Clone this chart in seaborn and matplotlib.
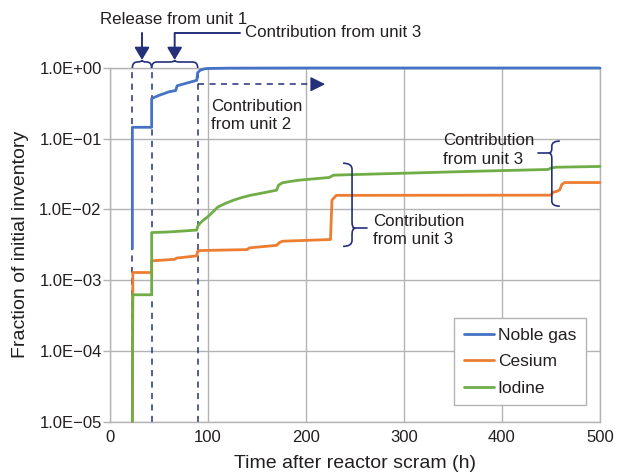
import numpy as np
import pandas as pd
import matplotlib
matplotlib.use("Agg")
import matplotlib.pyplot as plt
import seaborn as sns
from matplotlib.path import Path
from matplotlib.patches import PathPatch
from matplotlib.transforms import IdentityTransform
from matplotlib.lines import Line2D

# ---------------- data ----------------
noble_t = [22.8, 22.8, 42.5, 42.5, 50, 60, 67, 68.5, 78, 88.5, 89.5, 92, 96, 100, 120, 200, 500]
noble_v = [2.8e-3, 0.145, 0.145, 0.37, 0.41, 0.46, 0.48, 0.56, 0.61, 0.67, 0.86, 0.93, 0.97,
           0.985, 0.995, 1.0, 1.0]

cesium_t = [22.8, 23.3, 42.5, 42.5, 66, 68, 88.5, 89.5, 92, 140, 142, 147, 170, 173, 176,
            225, 226.5, 228, 231, 450, 452, 456, 459, 461, 464, 500]
cesium_v = [1e-5, 1.28e-3, 1.28e-3, 1.87e-3, 1.97e-3, 2.05e-3, 2.2e-3, 2.55e-3, 2.62e-3,
            2.7e-3, 2.85e-3, 2.9e-3, 3.1e-3, 3.4e-3, 3.55e-3, 3.75e-3, 1.35e-2, 1.43e-2,
            1.58e-2, 1.59e-2, 1.75e-2, 1.8e-2, 1.9e-2, 2.25e-2, 2.4e-2, 2.4e-2]

iodine_t = [22.8, 23.2, 42.5, 42.5, 60, 75, 88.5, 89.5, 92, 95, 99, 105, 110, 118, 126, 135,
            143, 155, 170, 172, 176, 185, 194, 224, 226, 228, 300, 375, 447, 450, 455, 500]
iodine_v = [1e-5, 6.2e-4, 6.2e-4, 4.7e-3, 4.8e-3, 4.95e-3, 5.1e-3, 5.8e-3, 6.4e-3, 7.0e-3,
            7.7e-3, 9.2e-3, 1.08e-2, 1.22e-2, 1.35e-2, 1.48e-2, 1.58e-2, 1.7e-2, 1.87e-2,
            2.2e-2, 2.38e-2, 2.5e-2, 2.6e-2, 2.83e-2, 2.95e-2, 3.05e-2, 3.25e-2, 3.47e-2,
            3.67e-2, 3.85e-2, 3.95e-2, 4.05e-2]

species = ["Noble gas", "Cesium", "Iodine"]
colors = ["#4472C4", "#ED7D31", "#70AD47"]

x_ticks = [0, 100, 200, 300, 400, 500]
y_ticks = [1e-5, 1e-4, 1e-3, 1e-2, 1e-1, 1e0]
y_tick_labels = ["1.0E\u221205", "1.0E\u221204", "1.0E\u221203", "1.0E\u221202",
                 "1.0E\u221201", "1.0E+00"]

phase_marks_h = [22.8, 42.5, 89.5]   # dashed release-phase markers

# ---------------- style ----------------
sns.set_theme(style="white")
plt.rcParams["font.family"] = ["Liberation Sans", "DejaVu Sans"]
TXT = "#231f20"
NAVY = "#24307a"
GRID = "#b3b3b3"

fig = plt.figure(figsize=(6.17, 4.76), dpi=100)
ax = fig.add_axes([110 / 617, 1 - 421.5 / 476, 490 / 617, 353.5 / 476])
ax.set_yscale("log")
ax.set_xlim(0, 500)
ax.set_ylim(1e-5, 1.0)

df = pd.concat([
    pd.DataFrame({"time": noble_t, "fraction": noble_v, "species": species[0]}),
    pd.DataFrame({"time": cesium_t, "fraction": cesium_v, "species": species[1]}),
    pd.DataFrame({"time": iodine_t, "fraction": iodine_v, "species": species[2]}),
], ignore_index=True)

# dashed phase markers (below curves)
for xm in phase_marks_h:
    ax.plot([xm, xm], [1e-5, 1.0], color=NAVY, lw=1.1, ls=(0, (4, 3.5)), zorder=1.5,
            clip_on=False)

sns.lineplot(data=df, x="time", y="fraction", hue="species", hue_order=species,
             palette=colors, estimator=None, sort=False, lw=2.0, ax=ax, legend=False,
             zorder=3)
for ln in ax.lines:
    ln.set_clip_on(False)

# grid / axes
ax.grid(True, which="major", color=GRID, lw=1.0)
ax.set_axisbelow(True)
ax.set_xticks(x_ticks)
ax.set_yticks(y_ticks)
ax.set_yticklabels(y_tick_labels)
ax.yaxis.set_minor_locator(matplotlib.ticker.NullLocator())
ax.tick_params(axis="x", length=0, pad=6, labelsize=12, colors=TXT)
ax.tick_params(axis="y", length=5, width=1.0, color=GRID, pad=1, labelsize=12,
               labelcolor=TXT, left=True)
for sp in ax.spines.values():
    sp.set_color(GRID)
    sp.set_linewidth(1.0)

ax.set_xlabel("Time after reactor scram (h)", fontsize=14, color=TXT)
ax.set_ylabel("Fraction of initial inventory", fontsize=14, color=TXT)
ax.xaxis.set_label_coords(0.5, -0.095)
ax.yaxis.set_label_coords(-0.165, 0.5)

# legend
handles = [Line2D([0], [0], color=c, lw=2.0) for c in colors]
leg = ax.legend(handles, species, loc="upper right", bbox_to_anchor=(0.971, 0.292),
                borderaxespad=0, fontsize=12.5, frameon=True, fancybox=False,
                handlelength=1.75, handletextpad=0.2, labelspacing=0.65,
                borderpad=0.55, edgecolor=GRID, framealpha=1)
leg.get_frame().set_linewidth(1.0)
for t in leg.get_texts():
    t.set_color(TXT)

# ---------------- annotations ----------------
to_disp = ax.transData.transform


def brace(s0, s1, sm, base, d, b, r, orient, sign):
    st = [(s0, 0), (s0, b), (s0 + r, b), (sm - r, b), (sm, b), (sm, d), (sm, b),
          (sm + r, b), (s1 - r, b), (s1, b), (s1, 0)]
    codes = [Path.MOVETO, Path.CURVE3, Path.CURVE3, Path.LINETO, Path.CURVE3, Path.CURVE3,
             Path.CURVE3, Path.CURVE3, Path.LINETO, Path.CURVE3, Path.CURVE3]
    if orient == "h":
        verts = [(s, base + sign * t) for s, t in st]
    else:
        verts = [(base + sign * t, s) for s, t in st]
    fig.add_artist(PathPatch(Path(verts, codes), fill=False, edgecolor=NAVY, lw=1.2,
                             transform=IdentityTransform(), clip_on=False))


# top braces over release phases
y_top = to_disp((0, 1.0))[1]
for a, bnd in [(phase_marks_h[0], phase_marks_h[1]), (phase_marks_h[1], phase_marks_h[2])]:
    xa, xb = to_disp((a, 1.0))[0], to_disp((bnd, 1.0))[0]
    brace(xa, xb, (xa + xb) / 2, y_top, 8, 6, min(5, (xb - xa) / 4), "h", 1)

arrow_kw = dict(arrowstyle="-|>,head_length=0.75,head_width=0.45", color=NAVY, lw=1.4,
                mutation_scale=10, shrinkA=0, shrinkB=0)
mid1 = (phase_marks_h[0] + phase_marks_h[1]) / 2
mid2 = (phase_marks_h[1] + phase_marks_h[2]) / 2
ax.annotate("", xy=(mid1, 1.30), xytext=(mid1, 3.13), arrowprops=arrow_kw,
            annotation_clip=False)
ax.plot([133, mid2], [3.13, 3.13], color=NAVY, lw=1.4, clip_on=False)
ax.annotate("", xy=(mid2, 1.30), xytext=(mid2, 3.13), arrowprops=arrow_kw,
            annotation_clip=False)

ax.text(-10.2, 4.78, "Release from unit 1", fontsize=12.2, color=TXT, va="center",
        ha="left", clip_on=False)
ax.text(138, 3.13, "Contribution from unit 3", fontsize=12.2, color=TXT, va="center",
        ha="left", clip_on=False)

# dashed arrow for unit 2
ax.plot([phase_marks_h[2], 208], [0.59, 0.59], color=NAVY, lw=1.1, ls=(0, (4, 3.5)),
        zorder=2)
ax.annotate("", xy=(219.5, 0.59), xytext=(206, 0.59),
            arrowprops=dict(arrowstyle="-|>,head_length=0.9,head_width=0.45", color=NAVY,
                            lw=1.0, mutation_scale=10, shrinkA=0, shrinkB=0),
            annotation_clip=False)
ax.text(102.7, 0.212, "Contribution\nfrom unit 2", fontsize=12.2, color=TXT, va="center",
        ha="left", linespacing=1.3)

# middle brace (cesium jump from unit 3)
xb_mid = to_disp((237.8, 1e-3))[0]
y_lo, y_hi, y_tip = (to_disp((0, v))[1] for v in (3.0e-3, 0.045, 5.4e-3))
brace(y_lo, y_hi, y_tip, xb_mid, 12, 9, 6, "v", 1)
fig.add_artist(Line2D([xb_mid + 12, xb_mid + 24], [y_tip, y_tip], color=NAVY, lw=1.2,
                      transform=IdentityTransform()))
ax.text(268, 5.0e-3, "Contribution\nfrom unit 3", fontsize=12.2, color=TXT, va="center",
        ha="left", linespacing=1.3)

# right brace (late unit 3 contribution)
xb_r = to_disp((459, 1e-3))[0]
y_lo, y_hi, y_tip = (to_disp((0, v))[1] for v in (0.0111, 0.0925, 0.0625))
brace(y_lo, y_hi, y_tip, xb_r, 11, 8, 5, "v", -1)
fig.add_artist(Line2D([xb_r - 11, xb_r - 22], [y_tip, y_tip], color=NAVY, lw=1.2,
                      transform=IdentityTransform()))
ax.text(340, 0.069, "Contribution\nfrom unit 3", fontsize=12.2, color=TXT, va="center",
        ha="left", linespacing=1.3)

fig.savefig("out.png", dpi=100)
